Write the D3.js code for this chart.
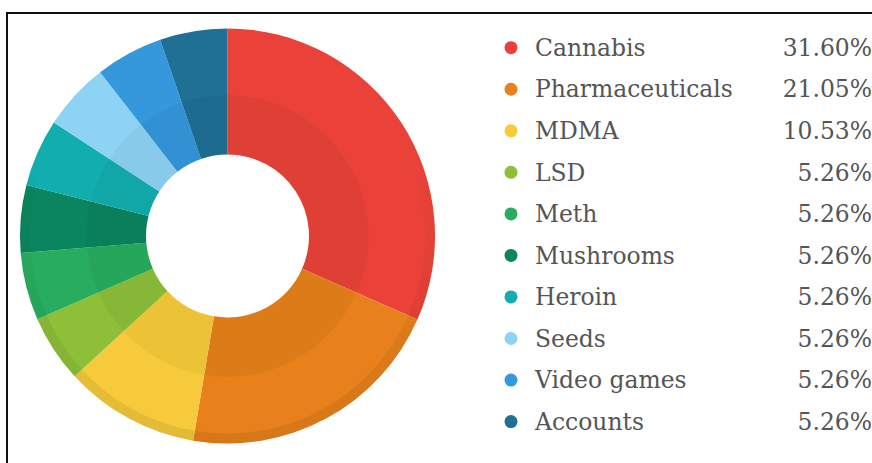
<!DOCTYPE html>
<html>
<head>
<meta charset="utf-8">
<script src="https://cdn.jsdelivr.net/npm/d3@7"></script>
<style>
  html, body { margin: 0; padding: 0; background: #fff; }
  svg { display: block; }
</style>
</head>
<body>
<svg id="chart" width="872" height="463"></svg>
<script>
// Market share by listing category
const categories = ["Cannabis", "Pharmaceuticals", "MDMA", "LSD", "Meth", "Mushrooms", "Heroin", "Seeds", "Video games", "Accounts"];
const shares = [31.60, 21.05, 10.53, 5.26, 5.26, 5.26, 5.26, 5.26, 5.26, 5.26];
const shareLabels = ["31.60%", "21.05%", "10.53%", "5.26%", "5.26%", "5.26%", "5.26%", "5.26%", "5.26%", "5.26%"];
const palette = ["#ea4238", "#e8811b", "#f6ca3a", "#8dbf39", "#28ad5f", "#0a855e", "#12adaf", "#8dd3f4", "#3597dc", "#1f7094"];

const svg = d3.select("#chart");
const W = 872, H = 463;

// frame: only the top and left edges fall inside the view
svg.append("rect")
  .attr("x", 7).attr("y", 13)
  .attr("width", W + 20).attr("height", H + 20)
  .attr("fill", "none").attr("stroke", "#111").attr("stroke-width", 2);

const cx = 227.5, cy = 236, rOuter = 207.5, rInner = 81.5, rMid = 141, rRim = 197.5;

const color = d3.scaleOrdinal().domain(categories).range(palette);
const pie = d3.pie().sort(null).value(d => d.v).startAngle(0).endAngle(2 * Math.PI);
const data = categories.map((c, i) => ({ c, v: shares[i] }));
const arcs = pie(data);

const g = svg.append("g").attr("transform", `translate(${cx},${cy})`);
const arc = d3.arc().innerRadius(rInner).outerRadius(rOuter);

g.selectAll("path.slice")
  .data(arcs)
  .join("path")
  .attr("class", "slice")
  .attr("d", arc)
  .attr("fill", d => color(d.data.c));

// soft shading: darker inner band and a rim that deepens toward the bottom
const defs = svg.append("defs");
const grad = defs.append("linearGradient")
  .attr("id", "rimShade").attr("x1", 0).attr("y1", 0).attr("x2", 0).attr("y2", 1);
grad.append("stop").attr("offset", "0%").attr("stop-color", "#000").attr("stop-opacity", 0);
grad.append("stop").attr("offset", "30%").attr("stop-color", "#000").attr("stop-opacity", 0.0);
grad.append("stop").attr("offset", "60%").attr("stop-color", "#000").attr("stop-opacity", 0.04);
grad.append("stop").attr("offset", "100%").attr("stop-color", "#000").attr("stop-opacity", 0.08);

g.append("path")
  .attr("d", d3.arc().innerRadius(rInner).outerRadius(rMid).startAngle(0).endAngle(2 * Math.PI)())
  .attr("fill", "#000").attr("fill-opacity", 0.04);

g.append("path")
  .attr("d", d3.arc().innerRadius(rRim).outerRadius(rOuter).startAngle(0).endAngle(2 * Math.PI)())
  .attr("fill", "url(#rimShade)");

// legend
const rowY = d3.scalePoint().domain(categories).range([47.7, 421.6]);
const legend = svg.append("g");
const rows = legend.selectAll("g.row")
  .data(data)
  .join("g")
  .attr("class", "row")
  .attr("transform", d => `translate(0,${rowY(d.c)})`);

rows.append("circle")
  .attr("cx", 511).attr("cy", 0).attr("r", 6.5)
  .attr("fill", d => color(d.c));

const labelFont = "'DejaVu Serif', serif";
const labels = rows.append("text")
  .attr("x", 535).attr("dy", "0.35em")
  .attr("fill", "#555")
  .style("font-family", labelFont)
  .style("font-size", "20px")
  .text(d => d.c);

// scale the label size so the longest name spans its measured width
const probe = labels.filter(d => d.c === "Pharmaceuticals").node();
const fs = 20 * 198 / probe.getComputedTextLength();
labels.style("font-size", fs + "px");

rows.append("text")
  .attr("x", 872).attr("dy", "0.35em")
  .attr("text-anchor", "end")
  .attr("fill", "#555")
  .style("font-family", labelFont)
  .style("font-size", fs + "px")
  .text((d, i) => shareLabels[i]);
</script>
</body>
</html>
